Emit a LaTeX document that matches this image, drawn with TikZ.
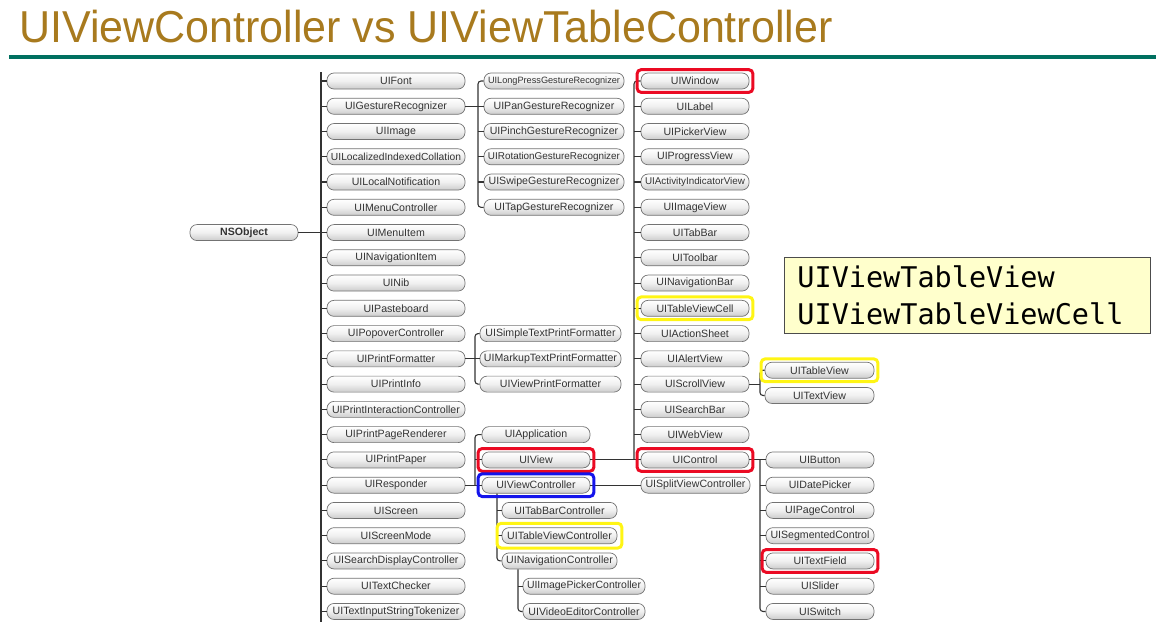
\documentclass[tikz,border=0pt]{standalone}
\usepackage{fontspec}
\usepackage{graphicx}
\setmainfont{Liberation Sans}
\newfontfamily\monofont{DejaVu Sans Mono}
\usetikzlibrary{fit}
\definecolor{titlegold}{RGB}{168,122,30}
\definecolor{ruleteal}{RGB}{0,112,96}
\definecolor{hlred}{RGB}{235,10,35}
\definecolor{hlblue}{RGB}{20,20,235}
\definecolor{hlyellow}{RGB}{255,245,20}
\definecolor{notefill}{RGB}{255,255,204}
\newsavebox\lblbox
\newdimen\pillmaxw
\newcommand\fitlbl[1]{\sbox\lblbox{#1}\ifdim\wd\lblbox>\pillmaxw\relax\resizebox{\pillmaxw}{!}{\usebox\lblbox}\else\usebox\lblbox\fi}
% name, width, x, row, label
\newcommand\pill[5]{\node[pill, minimum width=#2pt] (#1) at (#3,{81+25.26*(#4)}) {\pillmaxw=\dimexpr#2pt-8pt\relax\fitlbl{#5}};}
\begin{document}
\begin{tikzpicture}[x=1pt,y=-1pt,
  pill/.style={draw=black!55, line width=0.7pt, rounded corners=7pt, top color=white, bottom color=black!20,
    middle color=black!6, minimum height=16pt, inner sep=0pt, text=black!80, font=\fontsize{10.6}{12}\selectfont},
  conn/.style={draw=black!80, line width=1.1pt},
  elbow/.style={conn, rounded corners=3pt},
  hl/.style={draw=#1, line width=3pt, rounded corners=4pt, inner xsep=3.5pt, inner ysep=3pt},
  note/.style={draw=black!70, line width=0.9pt, fill=notefill, anchor=north west, align=left,
    minimum width=366pt, minimum height=76pt, text width=340pt, inner xsep=13pt,
    font=\monofont\fontsize{28.5}{37}\selectfont}
]
\useasboundingbox (0,0) rectangle (1168,630);

% title and rule
\node[anchor=base west, text=titlegold, inner sep=0pt, font=\fontsize{44.7}{50}\selectfont] (title) at (19,42)
  {\scalebox{0.962}[1]{UIViewController vs UIViewTableController}};
\coordinate (ruleL) at (9,57);
\coordinate (ruleR) at (1156,57);
\draw[ruleteal, line width=4pt] (ruleL) -- (ruleR);

% NSObject
\pill{nsobject}{108}{244}{6}{\textbf{NSObject}}

% column 1
\pill{font}{138}{396}{0}{UIFont}
\pill{gesture}{138}{396}{1}{UIGestureRecognizer}
\pill{image}{138}{396}{2}{UIImage}
\pill{lic}{138}{396}{3}{UILocalizedIndexedCollation}
\pill{lnot}{138}{396}{4}{UILocalNotification}
\pill{menuc}{138}{396}{5}{UIMenuController}
\pill{menui}{138}{396}{6}{UIMenuItem}
\pill{navi}{138}{396}{7}{UINavigationItem}
\pill{nib}{138}{396}{8}{UINib}
\pill{paste}{138}{396}{9}{UIPasteboard}
\pill{popover}{138}{396}{10}{UIPopoverController}
\pill{printf}{138}{396}{11}{UIPrintFormatter}
\pill{printi}{138}{396}{12}{UIPrintInfo}
\pill{printic}{138}{396}{13}{UIPrintInteractionController}
\pill{printpr}{138}{396}{14}{UIPrintPageRenderer}
\pill{printp}{138}{396}{15}{UIPrintPaper}
\pill{responder}{138}{396}{16}{UIResponder}
\pill{screen}{138}{396}{17}{UIScreen}
\pill{screenm}{138}{396}{18}{UIScreenMode}
\pill{searchdc}{138}{396}{19}{UISearchDisplayController}
\pill{textc}{138}{396}{20}{UITextChecker}
\pill{textist}{138}{396}{21}{UITextInputStringTokenizer}

% gesture recognizers
\pill{glong}{140}{554}{0}{UILongPressGestureRecognizer}
\pill{gpan}{140}{554}{1}{UIPanGestureRecognizer}
\pill{gpinch}{140}{554}{2}{UIPinchGestureRecognizer}
\pill{grot}{140}{554}{3}{UIRotationGestureRecognizer}
\pill{gswipe}{140}{554}{4}{UISwipeGestureRecognizer}
\pill{gtap}{140}{554}{5}{UITapGestureRecognizer}

% print formatters
\pill{pfsimple}{141}{550.5}{10}{UISimpleTextPrintFormatter}
\pill{pfmarkup}{141}{550.5}{11}{UIMarkupTextPrintFormatter}
\pill{pfview}{141}{550.5}{12}{UIViewPrintFormatter}

% responder subclasses
\pill{app}{108}{536}{14}{UIApplication}
\pill{view}{108}{536}{15}{UIView}
\pill{vc}{108}{536}{16}{UIViewController}

% view subclasses
\pill{window}{108}{695}{0}{UIWindow}
\pill{label}{108}{695}{1}{UILabel}
\pill{picker}{108}{695}{2}{UIPickerView}
\pill{progress}{108}{695}{3}{UIProgressView}
\pill{activity}{108}{695}{4}{UIActivityIndicatorView}
\pill{imagev}{108}{695}{5}{UIImageView}
\pill{tabbar}{108}{695}{6}{UITabBar}
\pill{toolbar}{108}{695}{7}{UIToolbar}
\pill{navbar}{108}{695}{8}{UINavigationBar}
\pill{tvcell}{108}{695}{9}{UITableViewCell}
\pill{actions}{108}{695}{10}{UIActionSheet}
\pill{alert}{108}{695}{11}{UIAlertView}
\pill{scroll}{108}{695}{12}{UIScrollView}
\pill{searchbar}{108}{695}{13}{UISearchBar}
\pill{webview}{108}{695}{14}{UIWebView}
\pill{control}{108}{695}{15}{UIControl}
\pill{split}{109}{695.5}{16}{UISplitViewController}

% view controller subclasses
\pill{tabbarc}{115}{559.5}{17}{UITabBarController}
\pill{tvc}{115}{559.5}{18}{UITableViewController}
\pill{navc}{115}{559.5}{19}{UINavigationController}
\pill{imgpick}{122}{584}{20}{UIImagePickerController}
\pill{videoed}{122}{584}{21}{UIVideoEditorController}

% scroll view subclasses
\pill{tableview}{109}{819.5}{11.45}{UITableView}
\pill{textview}{109}{819.5}{12.45}{UITextView}

% control subclasses
\pill{button}{108}{820}{15}{UIButton}
\pill{datepicker}{108}{820}{16}{UIDatePicker}
\pill{pagecontrol}{108}{820}{17}{UIPageControl}
\pill{segmented}{108}{820}{18}{UISegmentedControl}
\pill{textfield}{108}{820}{19}{UITextField}
\pill{slider}{108}{820}{20}{UISlider}
\pill{switch}{108}{820}{21}{UISwitch}

% bus coordinates
\coordinate (b1top) at (321,72);
\coordinate (b1bot) at (321,622);
\coordinate (gbus) at (478,0);
\coordinate (pbus) at (475,0);
\coordinate (rbus) at (475,0);
\coordinate (vbus) at (634,0);
\coordinate (sbus) at (760,0);
\coordinate (cbus) at (760,0);
\coordinate (vcbus) at (497,0);
\coordinate (nbus) at (518,0);

% connectors: NSObject
\draw[conn] (b1top) -- (b1bot);
\draw[conn] (nsobject.east) -- (nsobject.east -| b1top);
\foreach \n in {font,gesture,image,lic,lnot,menuc,menui,navi,nib,paste,popover,printf,printi,printic,printpr,printp,responder,screen,screenm,searchdc,textc,textist}
  \draw[conn] (\n.west) -- (\n.west -| b1top);

% gesture recognizer
\draw[elbow] (glong.west) -| (gtap.west -| gbus) -- (gtap.west);
\draw[conn] (gesture.east) -- (gpan.west);
\foreach \n in {gpinch,grot,gswipe} \draw[conn] (\n.west) -- (\n.west -| gbus);

% print formatter
\draw[elbow] (pfsimple.west) -| (pfview.west -| pbus) -- (pfview.west);
\draw[conn] (printf.east) -- (pfmarkup.west);

% responder
\draw[elbow] (app.west) -| (vc.west -| rbus);
\draw[conn] (responder.east) -- (vc.west);
\draw[conn] (view.west) -- (view.west -| rbus);

% view
\draw[elbow] (window.west) -| (control.west -| vbus);
\draw[conn] (view.east) -- (control.west);
\foreach \n in {label,picker,progress,activity,imagev,tabbar,toolbar,navbar,tvcell,actions,alert,scroll,searchbar,webview}
  \draw[conn] (\n.west) -- (\n.west -| vbus);

% view controller
\draw[conn] (vc.east) -- (split.west);
\draw[elbow] (vc.south -| vcbus) |- (navc.west);
\foreach \n in {tabbarc,tvc} \draw[conn] (\n.west) -- (\n.west -| vcbus);
\draw[elbow] (navc.south -| nbus) |- (videoed.west);
\draw[conn] (imgpick.west) -- (imgpick.west -| nbus);

% scroll view
\draw[elbow] (tableview.west) -| (textview.west -| sbus) -- (textview.west);
\draw[conn] (scroll.east) -- (scroll.east -| sbus);

% control
\draw[conn] (control.east) -- (button.west);
\draw[elbow] (button.west -| cbus) |- (switch.west);
\foreach \n in {datepicker,pagecontrol,segmented,textfield,slider}
  \draw[conn] (\n.west) -- (\n.west -| cbus);

% highlights
\node[hl=hlred, fit=(window)] (hlwindow) {};
\node[hl=hlred, fit=(view)] (hlview) {};
\node[hl=hlred, fit=(control)] (hlcontrol) {};
\node[hl=hlred, fit=(textfield)] (hltextfield) {};
\node[hl=hlblue, fit=(vc)] (hlvc) {};
\node[hl=hlyellow, fit=(tvcell)] (hltvcell) {};
\node[hl=hlyellow, fit=(tableview)] (hltableview) {};
\node[hl=hlyellow, fit=(tvc), inner xsep=4.5pt, inner ysep=4pt] (hltvc) {};

% note box
\node[note] (notebox) at (784,257) {UIViewTableView\\UIViewTableViewCell};
\end{tikzpicture}
\end{document}
